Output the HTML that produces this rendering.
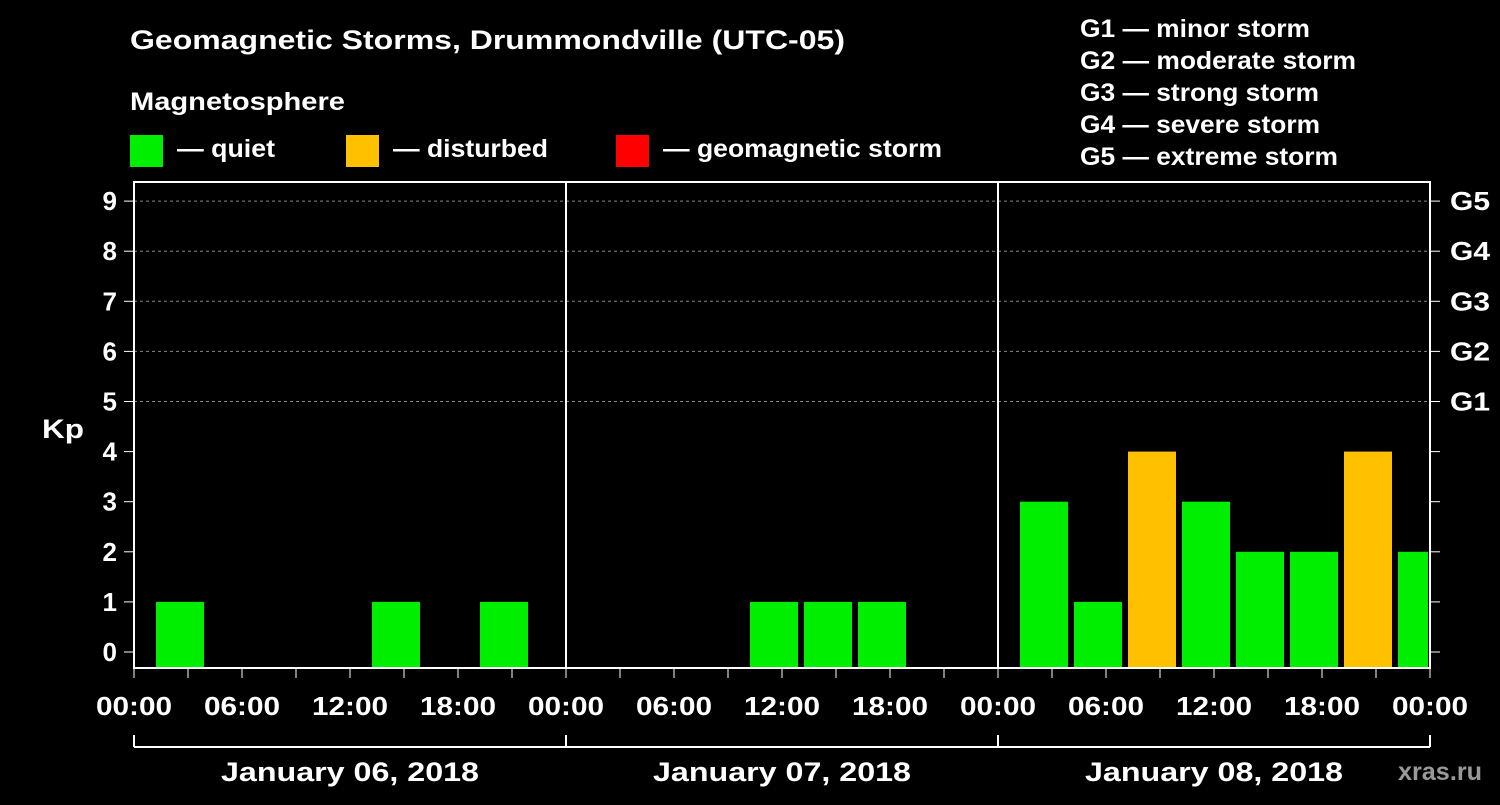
<!DOCTYPE html>
<html><head><meta charset="utf-8"><style>
body{margin:0;background:#000;width:1500px;height:800px;overflow:hidden}
svg text{font-family:"Liberation Sans",sans-serif;font-weight:bold;fill:#fff}
</style></head><body>
<svg id="c" width="1500" height="800">
<text x="130" y="49" font-size="27" textLength="715" lengthAdjust="spacingAndGlyphs">Geomagnetic Storms, Drummondville (UTC-05)</text>
<text x="130" y="110" font-size="25" textLength="215" lengthAdjust="spacingAndGlyphs">Magnetosphere</text>
<rect x="130" y="135" width="33" height="32" fill="#00ee00"/>
<text x="177" y="157" font-size="25" textLength="98" lengthAdjust="spacingAndGlyphs">— quiet</text>
<rect x="346" y="135" width="33" height="32" fill="#ffc000"/>
<text x="393" y="157" font-size="25" textLength="155" lengthAdjust="spacingAndGlyphs">— disturbed</text>
<rect x="616" y="135" width="33" height="32" fill="#ff0000"/>
<text x="663" y="157" font-size="25" textLength="279" lengthAdjust="spacingAndGlyphs">— geomagnetic storm</text>
<g font-size="25">
<text x="1080" y="37" textLength="230" lengthAdjust="spacingAndGlyphs">G1 — minor storm</text>
<text x="1080" y="69" textLength="276" lengthAdjust="spacingAndGlyphs">G2 — moderate storm</text>
<text x="1080" y="101" textLength="239" lengthAdjust="spacingAndGlyphs">G3 — strong storm</text>
<text x="1080" y="133" textLength="240" lengthAdjust="spacingAndGlyphs">G4 — severe storm</text>
<text x="1080" y="165" textLength="258" lengthAdjust="spacingAndGlyphs">G5 — extreme storm</text>
</g>
<text x="42" y="438" font-size="27" textLength="42" lengthAdjust="spacingAndGlyphs">Kp</text>
<text x="1398" y="780" font-size="25" style="fill:#999" textLength="84" lengthAdjust="spacingAndGlyphs">xras.ru</text>
<g id="plot"></g>
</svg>
<script>
const values=[1,0,0,0,1,0,1,0, 0,0,0,1,1,1,0,0, 3,1,4,3,2,2,4,2];
const binStartHours=[1,4,7,10,13,16,19,22,25,28,31,34,37,40,43,46,49,52,55,58,61,64,67,70];
const dayLabels=["January 06, 2018","January 07, 2018","January 08, 2018"];
const xTickLabels=["00:00","06:00","12:00","18:00"];
const kpTicks=[0,1,2,3,4,5,6,7,8,9];
const gLabels=["G1","G2","G3","G4","G5"];

const X0=134,X1=1430,TOP=182,BOT=668;
const x=h=>X0+h*(X1-X0)/72;
const y=v=>652-v*50.1;
const ns="http://www.w3.org/2000/svg";
const g=document.getElementById('plot');
function mk(t,a,txt){const e=document.createElementNS(ns,t);for(const k in a)e.setAttribute(k,a[k]);if(txt!==undefined)e.textContent=txt;g.appendChild(e);return e;}

for(let v=5;v<=9;v++){
 const l=mk('line',{x1:X0,x2:X1,y1:y(v),y2:y(v),stroke:'#888','stroke-dasharray':'3,3','stroke-width':1});
 
 
}
values.forEach((v,i)=>{
 if(v<=0)return;
 const h=binStartHours[i];
 const xa=x(h)+4, xb=Math.min(x(h+3)-2,X1-2);
 const col=v>=5?'#ff0000':(v>=4?'#ffc000':'#00ee00');
 const r=mk('rect',{x:xa,y:y(v),width:xb-xa,height:y(0)+16-y(v),fill:col});
 
 
});
const fr=mk('rect',{x:X0,y:TOP,width:X1-X0,height:BOT-TOP,fill:'none',stroke:'#fff','stroke-width':2});


for(let d=1;d<3;d++){
 const l=mk('line',{x1:x(d*24),x2:x(d*24),y1:TOP,y2:BOT,stroke:'#fff','stroke-width':2});
 
 
}
kpTicks.forEach(v=>{
 mk('line',{x1:X0-10,x2:X0,y1:y(v),y2:y(v),stroke:'#fff','stroke-width':1});
 mk('line',{x1:X1,x2:X1+10,y1:y(v),y2:y(v),stroke:'#fff','stroke-width':1});
 const t=mk('text',{x:X0-17,y:y(v)+9,'font-size':26,'text-anchor':'end'},String(v));
 
 
});
gLabels.forEach((s,i)=>{
 const t=mk('text',{x:1450,y:y(5+i)+9,'font-size':26,textLength:40,lengthAdjust:'spacingAndGlyphs'},s);
 
 
});
for(let h=0;h<=72;h+=3){
 mk('line',{x1:x(h),x2:x(h),y1:BOT,y2:BOT+10,stroke:'#fff','stroke-width':1});
 if(h%6===0){
  const t=mk('text',{x:x(h)-38,y:715,'font-size':26,textLength:76,lengthAdjust:'spacingAndGlyphs'},xTickLabels[(h%24)/6]);
  
  
 }
}
mk('line',{x1:X0,x2:X1,y1:747,y2:747,stroke:'#fff','stroke-width':2});
for(let d=0;d<=3;d++) mk('line',{x1:x(d*24),x2:x(d*24),y1:735,y2:747,stroke:'#fff','stroke-width':2});
dayLabels.forEach((s,d)=>{
 const t=mk('text',{x:x(d*24+12)-129,y:781,'font-size':27,textLength:258,lengthAdjust:'spacingAndGlyphs'},s);
 
 
});
</script>
</body></html>
